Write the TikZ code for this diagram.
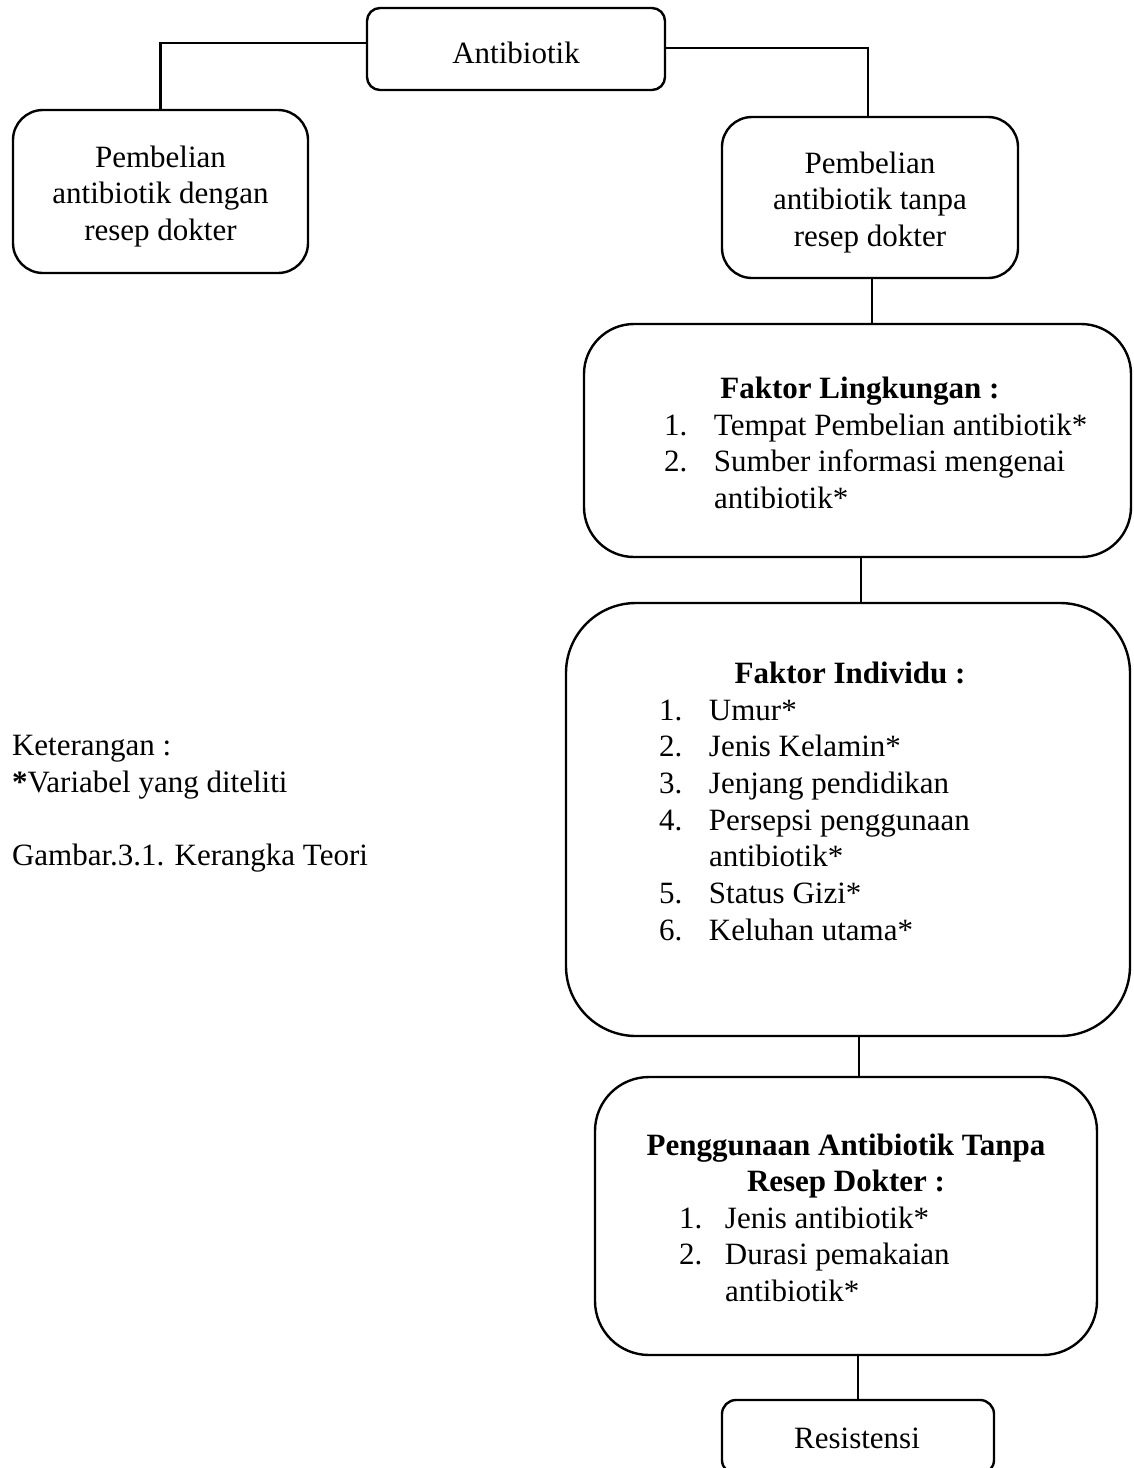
\documentclass[tikz,border=0pt]{standalone}
\usepackage{fontspec}
\setmainfont{Liberation Serif}
\usepackage{array}
\begin{document}
\begin{tikzpicture}[x=0.5pt,y=-0.5pt,line width=1.2pt,
  box/.style={draw,line width=1.2pt,rounded corners=#1,inner sep=0pt},
  txt/.style={inner sep=0pt,outer sep=0pt,anchor=base,font=\fontsize{15.5}{18.35}\selectfont},
  ltxt/.style={txt,anchor=base west},
  conn/.style={line width=1.2pt}]
\useasboundingbox (0,0) rectangle (1134,1468);
% boxes
\node[box=6.5pt,minimum width=149pt,minimum height=41pt] (anti) at (516,49) {};
\node[box=15pt,minimum width=147.5pt,minimum height=81.5pt] (lbox) at (160.5,191.5) {};
\node[box=15pt,minimum width=148pt,minimum height=80.5pt] (rbox) at (870,197.5) {};
\node[box=25pt,minimum width=273.5pt,minimum height=116.5pt] (ling) at (857.5,440.5) {};
\node[box=35pt,minimum width=282pt,minimum height=216.5pt] (indiv) at (848,819.5) {};
\node[box=27pt,minimum width=251pt,minimum height=139pt] (pengg) at (846,1216) {};
\node[box=7pt,minimum width=136pt,minimum height=37pt] (res) at (858,1437) {};
% connectors
\draw[conn] ([yshift=3pt]anti.west) -| (lbox.north);
\draw[conn] ([yshift=0.5pt]anti.east) -| ([xshift=-1pt]rbox.north);
\draw[conn] ([xshift=1pt]rbox.south) -- ([xshift=1pt]rbox.south |- ling.north);
\draw[conn] ([xshift=1.75pt]ling.south) -- ([xshift=1.75pt]ling.south |- indiv.north);
\draw[conn] ([xshift=5.5pt]indiv.south) -- ([xshift=5.5pt]indiv.south |- pengg.north);
\draw[conn] (res.north |- pengg.south) -- (res.north);
% texts
\node[txt] (tanti) at (516,63) {Antibiotik};
\node[txt] (tl) at (160.5,167) {\begin{tabular}[t]{@{}c@{}}Pembelian\\antibiotik dengan\\resep dokter\end{tabular}};
\node[txt] (tr) at (870,173) {\begin{tabular}[t]{@{}c@{}}Pembelian\\antibiotik tanpa\\resep dokter\end{tabular}};
\node[txt] (tlingh) at (860,398) {\textbf{Faktor Lingkungan :}};
\node[ltxt] (tlingl) at (664,435) {\begin{tabular}[t]{@{}p{25pt}@{}l@{}}1.&Tempat Pembelian antibiotik*\\2.&Sumber informasi mengenai\\&antibiotik*\end{tabular}};
\node[txt] (tindh) at (850,683) {\textbf{Faktor Individu :}};
\node[ltxt] (tindl) at (659,720) {\begin{tabular}[t]{@{}p{25pt}@{}l@{}}1.&Umur*\\2.&Jenis Kelamin*\\3.&Jenjang pendidikan\\4.&Persepsi penggunaan\\&antibiotik*\\5.&Status Gizi*\\6.&Keluhan utama*\end{tabular}};
\node[txt] (tpengh) at (846,1155) {\begin{tabular}[t]{@{}c@{}}\textbf{Penggunaan Antibiotik Tanpa}\\\textbf{Resep Dokter :}\end{tabular}};
\node[ltxt] (tpengl) at (679,1228) {\begin{tabular}[t]{@{}p{23pt}@{}l@{}}1.&Jenis antibiotik*\\2.&Durasi pemakaian\\&antibiotik*\end{tabular}};
\node[txt] (tres) at (857,1448) {Resistensi};
\node[ltxt] (note1) at (12,755) {Keterangan :};
\node[ltxt] (note2) at (12,792) {\textbf{*}Variabel yang diteliti};
\node[ltxt] (note3) at (12,865) {Gambar.3.1. Kerangka Teori};
\end{tikzpicture}
\end{document}
